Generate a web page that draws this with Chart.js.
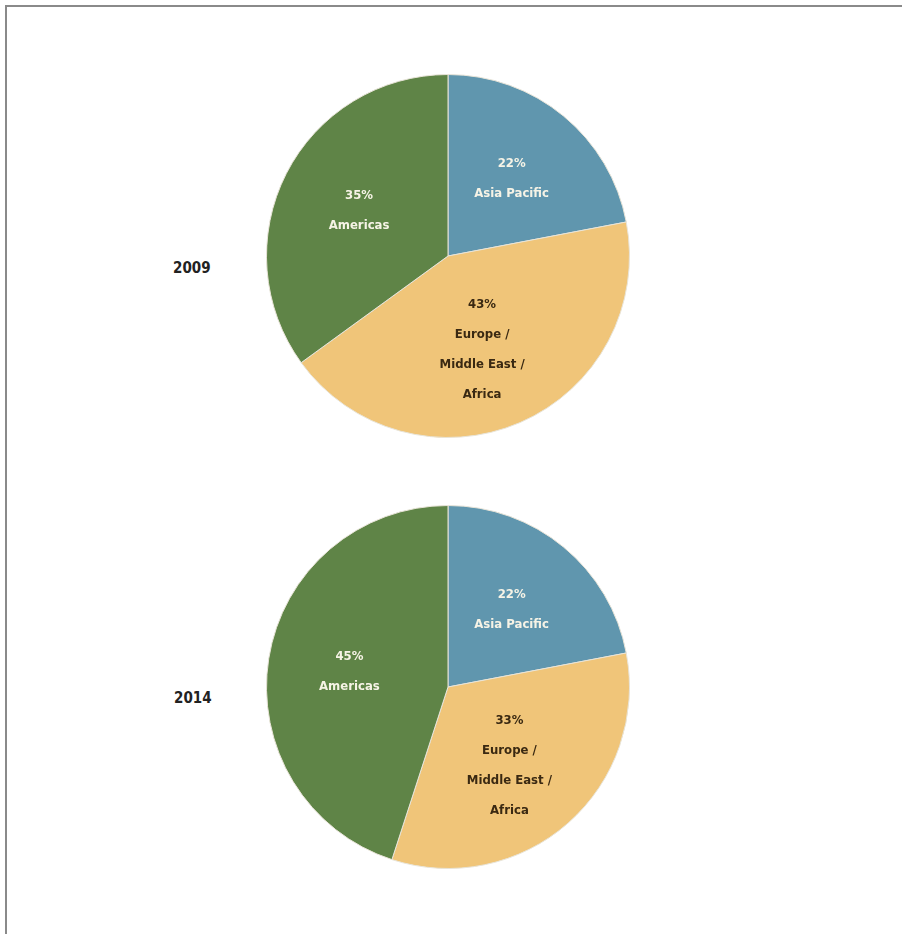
<!DOCTYPE html>
<html>
<head>
<meta charset="utf-8">
<script src="https://cdn.jsdelivr.net/npm/chart.js@4.4.0/dist/chart.umd.min.js"></script>
<style>
  body { margin: 0; background: #fff; width: 902px; height: 934px; overflow: hidden; position: relative; }
  #frame { position: absolute; left: 5px; top: 5px; width: 960px; height: 1000px; border: 2px solid #8a8a8a; }
  .year { position: absolute; font-family: "DejaVu Sans Condensed", "DejaVu Sans", sans-serif; font-stretch: condensed; font-weight: bold; font-size: 15px; color: #222; }
  .pie { position: absolute; width: 364px; height: 364px; }
</style>
</head>
<body>
<div id="frame"></div>
<div class="year" style="left:173px; top:259px;">2009</div>
<div class="year" style="left:174px; top:689px;">2014</div>
<div class="pie" style="left:266px; top:74px;"><canvas id="pie-2009"></canvas></div>
<div class="pie" style="left:266px; top:505px;"><canvas id="pie-2014"></canvas></div>
<script>
// Data
const regions = ['Asia Pacific', 'Europe / Middle East / Africa', 'Americas'];
const regionLines = [['Asia Pacific'], ['Europe /', 'Middle East /', 'Africa'], ['Americas']];
const share2009 = [22, 43, 35];
const share2014 = [22, 33, 45];
const sliceColors = ['#6096ae', '#f0c579', '#5f8447'];
const textColors = ['#f6f3e6', '#3a2912', '#f6f3e6'];

// draws "NN%" + region name inside each slice
const sliceLabels = {
  id: 'sliceLabels',
  afterDatasetsDraw(chart) {
    const ctx = chart.ctx;
    const meta = chart.getDatasetMeta(0);
    const data = chart.data.datasets[0].data;
    meta.data.forEach((arc, i) => {
      let mid = (arc.startAngle + arc.endAngle) / 2;
      // the europe label sits a bit lower than the slice middle
      if (i === 1) mid += 0.06;
      const r = arc.outerRadius * 0.55;
      const x = arc.x + Math.cos(mid) * r;
      const y = arc.y + Math.sin(mid) * r;
      const lines = [data[i] + '%'].concat(regionLines[i]);
      const lh = 30;
      ctx.save();
      ctx.font = 'bold 13px "DejaVu Sans Condensed", "DejaVu Sans", sans-serif';
      if ('fontStretch' in ctx) ctx.fontStretch = 'condensed';
      ctx.fillStyle = textColors[i];
      ctx.textAlign = 'center';
      ctx.textBaseline = 'middle';
      lines.forEach((t, k) => {
        ctx.fillText(t, x, y + (k - (lines.length - 1) / 2) * lh);
      });
      ctx.restore();
    });
  }
};

function createPie(id, values) {
  return new Chart(document.getElementById(id).getContext('2d'), {
    type: 'pie',
    data: {
      labels: regions,
      datasets: [{
        data: values,
        backgroundColor: sliceColors,
        borderColor: '#e8e4d8',
        borderWidth: 1
      }]
    },
    options: {
      responsive: true,
      maintainAspectRatio: false,
      animation: false,
      layout: { padding: 0 },
      plugins: {
        legend: { display: false },
        tooltip: { enabled: false }
      }
    },
    plugins: [sliceLabels]
  });
}

createPie('pie-2009', share2009);
createPie('pie-2014', share2014);
</script>
</body>
</html>
